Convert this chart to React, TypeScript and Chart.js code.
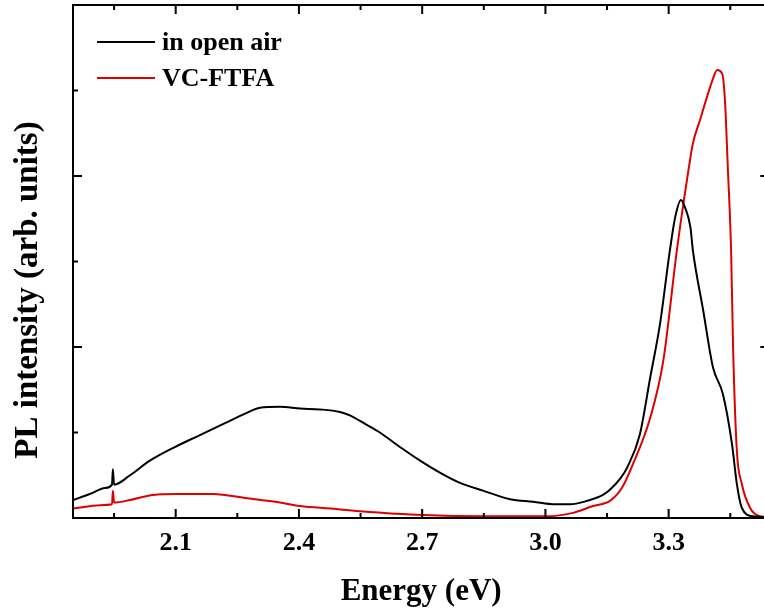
import React, { useEffect, useRef } from "react";
import { Chart, registerables } from "chart.js";

Chart.register(...registerables);

// ---- data (Energy in eV, PL intensity in arb. units) ----
const airEnergy = [1.850, 1.891, 1.928, 1.945, 1.947, 1.950, 1.989, 2.037, 2.098, 2.159, 2.220, 2.269, 2.305, 2.354, 2.403, 2.451, 2.500, 2.524, 2.561, 2.597, 2.646, 2.695, 2.743, 2.792, 2.848, 2.914, 2.970, 3.023, 3.060, 3.101, 3.140, 3.157, 3.182, 3.199, 3.230, 3.255, 3.279, 3.303, 3.316, 3.330, 3.340, 3.353, 3.359, 3.384, 3.408, 3.432, 3.454, 3.466, 3.478, 3.505, 3.545];
const airIntensity = [0.21, 0.28, 0.35, 0.39, 0.57, 0.39, 0.50, 0.67, 0.83, 0.97, 1.11, 1.22, 1.29, 1.30, 1.28, 1.27, 1.24, 1.20, 1.10, 1.00, 0.83, 0.67, 0.53, 0.41, 0.32, 0.22, 0.19, 0.16, 0.16, 0.20, 0.27, 0.33, 0.46, 0.59, 0.98, 1.64, 2.27, 3.13, 3.52, 3.72, 3.63, 3.40, 3.13, 2.43, 1.76, 1.45, 0.87, 0.40, 0.12, 0.02, 0.01];

const vcEnergy = [1.850, 1.916, 1.945, 1.947, 1.950, 1.989, 2.045, 2.103, 2.191, 2.274, 2.342, 2.403, 2.476, 2.549, 2.702, 2.848, 3.004, 3.067, 3.116, 3.157, 3.186, 3.213, 3.255, 3.287, 3.320, 3.347, 3.359, 3.376, 3.393, 3.408, 3.418, 3.430, 3.437, 3.444, 3.452, 3.457, 3.466, 3.478, 3.498, 3.522, 3.545];
const vcIntensity = [0.11, 0.15, 0.16, 0.32, 0.18, 0.21, 0.27, 0.28, 0.28, 0.23, 0.19, 0.14, 0.11, 0.08, 0.035, 0.02, 0.02, 0.06, 0.14, 0.20, 0.35, 0.63, 1.17, 1.84, 3.13, 4.03, 4.38, 4.65, 4.92, 5.14, 5.24, 5.20, 4.89, 4.10, 3.13, 1.96, 0.79, 0.40, 0.12, 0.02, 0.01];

const seriesLabels = ["in open air", "VC-FTFA"];
const seriesColors = ["#000000", "#dd0000"];

const xMajorTicks = [2.1, 2.4, 2.7, 3.0, 3.3];
const xMinorTicks = [1.95, 2.25, 2.55, 2.85, 3.15, 3.45];
const yMajorTicks = [2, 4];
const yMinorTicks = [1, 3, 5];

const xTitle = "Energy (eV)";
const yTitle = "PL intensity (arb. units)";

const FONT = "'Liberation Serif', 'Times New Roman', serif";

const framePlugin = {
  id: "frameAndLegend",
  afterDatasetsDraw(chart: any) {
    const { ctx, chartArea: a, scales } = chart;
    const xs = scales.x;
    const ys = scales.y;
    ctx.save();
    ctx.strokeStyle = "#000";
    ctx.lineWidth = 2;
    ctx.strokeRect(a.left, a.top, a.right - a.left, a.bottom - a.top);

    const major = 9;
    const minor = 5;
    ctx.beginPath();
    const xt = (v: number, len: number) => {
      const px = xs.getPixelForValue(v);
      ctx.moveTo(px, a.bottom);
      ctx.lineTo(px, a.bottom - len);
      ctx.moveTo(px, a.top);
      ctx.lineTo(px, a.top + len);
    };
    const yt = (v: number, len: number) => {
      const py = ys.getPixelForValue(v);
      ctx.moveTo(a.left, py);
      ctx.lineTo(a.left + len, py);
      ctx.moveTo(a.right, py);
      ctx.lineTo(a.right - len, py);
    };
    xMajorTicks.forEach((v) => xt(v, major));
    xMinorTicks.forEach((v) => xt(v, minor));
    yMajorTicks.forEach((v) => yt(v, major));
    yMinorTicks.forEach((v) => yt(v, minor));
    ctx.stroke();

    // y title
    ctx.fillStyle = "#000";
    ctx.font = `bold 33px ${FONT}`;
    ctx.textAlign = "center";
    ctx.textBaseline = "middle";
    ctx.save();
    ctx.translate(28, 290);
    ctx.rotate(-Math.PI / 2);
    ctx.fillText(yTitle, 0, 0);
    ctx.restore();

    // legend
    ctx.font = `bold 26px ${FONT}`;
    ctx.textAlign = "left";
    const rows = [42, 78];
    seriesLabels.forEach((lab, i) => {
      ctx.strokeStyle = seriesColors[i];
      ctx.lineWidth = 2;
      ctx.beginPath();
      ctx.moveTo(97, rows[i]);
      ctx.lineTo(155, rows[i]);
      ctx.stroke();
      ctx.fillStyle = "#000";
      ctx.fillText(lab, 162, rows[i] + 1);
    });
    ctx.restore();
  },
};

export default function App() {
  const ref = useRef<HTMLCanvasElement | null>(null);
  useEffect(() => {
    if (!ref.current) return;
    const chart = new Chart(ref.current, {
      type: "line",
      data: {
        datasets: [
          {
            label: seriesLabels[0],
            data: airEnergy.map((x, i) => ({ x, y: airIntensity[i] })),
            borderColor: seriesColors[0],
            borderWidth: 2,
            pointRadius: 0,
            cubicInterpolationMode: "monotone",
            fill: false,
          },
          {
            label: seriesLabels[1],
            data: vcEnergy.map((x, i) => ({ x, y: vcIntensity[i] })),
            borderColor: seriesColors[1],
            borderWidth: 2,
            pointRadius: 0,
            cubicInterpolationMode: "monotone",
            fill: false,
          },
        ],
      },
      options: {
        animation: false,
        responsive: false,
        events: [],
        layout: { padding: { left: 73, top: 5, right: 20.7, bottom: 0 } },
        plugins: {
          legend: { display: false },
          tooltip: { enabled: false },
        },
        scales: {
          x: {
            type: "linear",
            min: 1.85,
            max: 3.545,
            grid: { display: false, drawTicks: false },
            border: { display: false },
            afterBuildTicks: (scale: any) => {
              scale.ticks = xMajorTicks.map((v) => ({ value: v }));
            },
            ticks: {
              autoSkip: false,
              maxRotation: 0,
              padding: 10,
              color: "#000",
              font: { family: FONT, size: 26, weight: "bold" },
              callback: (v: any) => Number(v).toFixed(1),
            },
            title: {
              display: true,
              text: xTitle,
              color: "#000",
              font: { family: FONT, size: 31, weight: "bold" },
              padding: { top: 4.2, bottom: 2.4 },
            },
          },
          y: {
            type: "linear",
            display: false,
            min: 0,
            max: 6,
          },
        },
      },
      plugins: [framePlugin],
    });
    return () => chart.destroy();
  }, []);
  return (
    <div style={{ position: "fixed", left: 0, top: 0, width: 764, height: 613, overflow: "hidden", background: "#fff" }}>
      <canvas ref={ref} width={790} height={613} style={{ display: "block" }} />
    </div>
  );
}
